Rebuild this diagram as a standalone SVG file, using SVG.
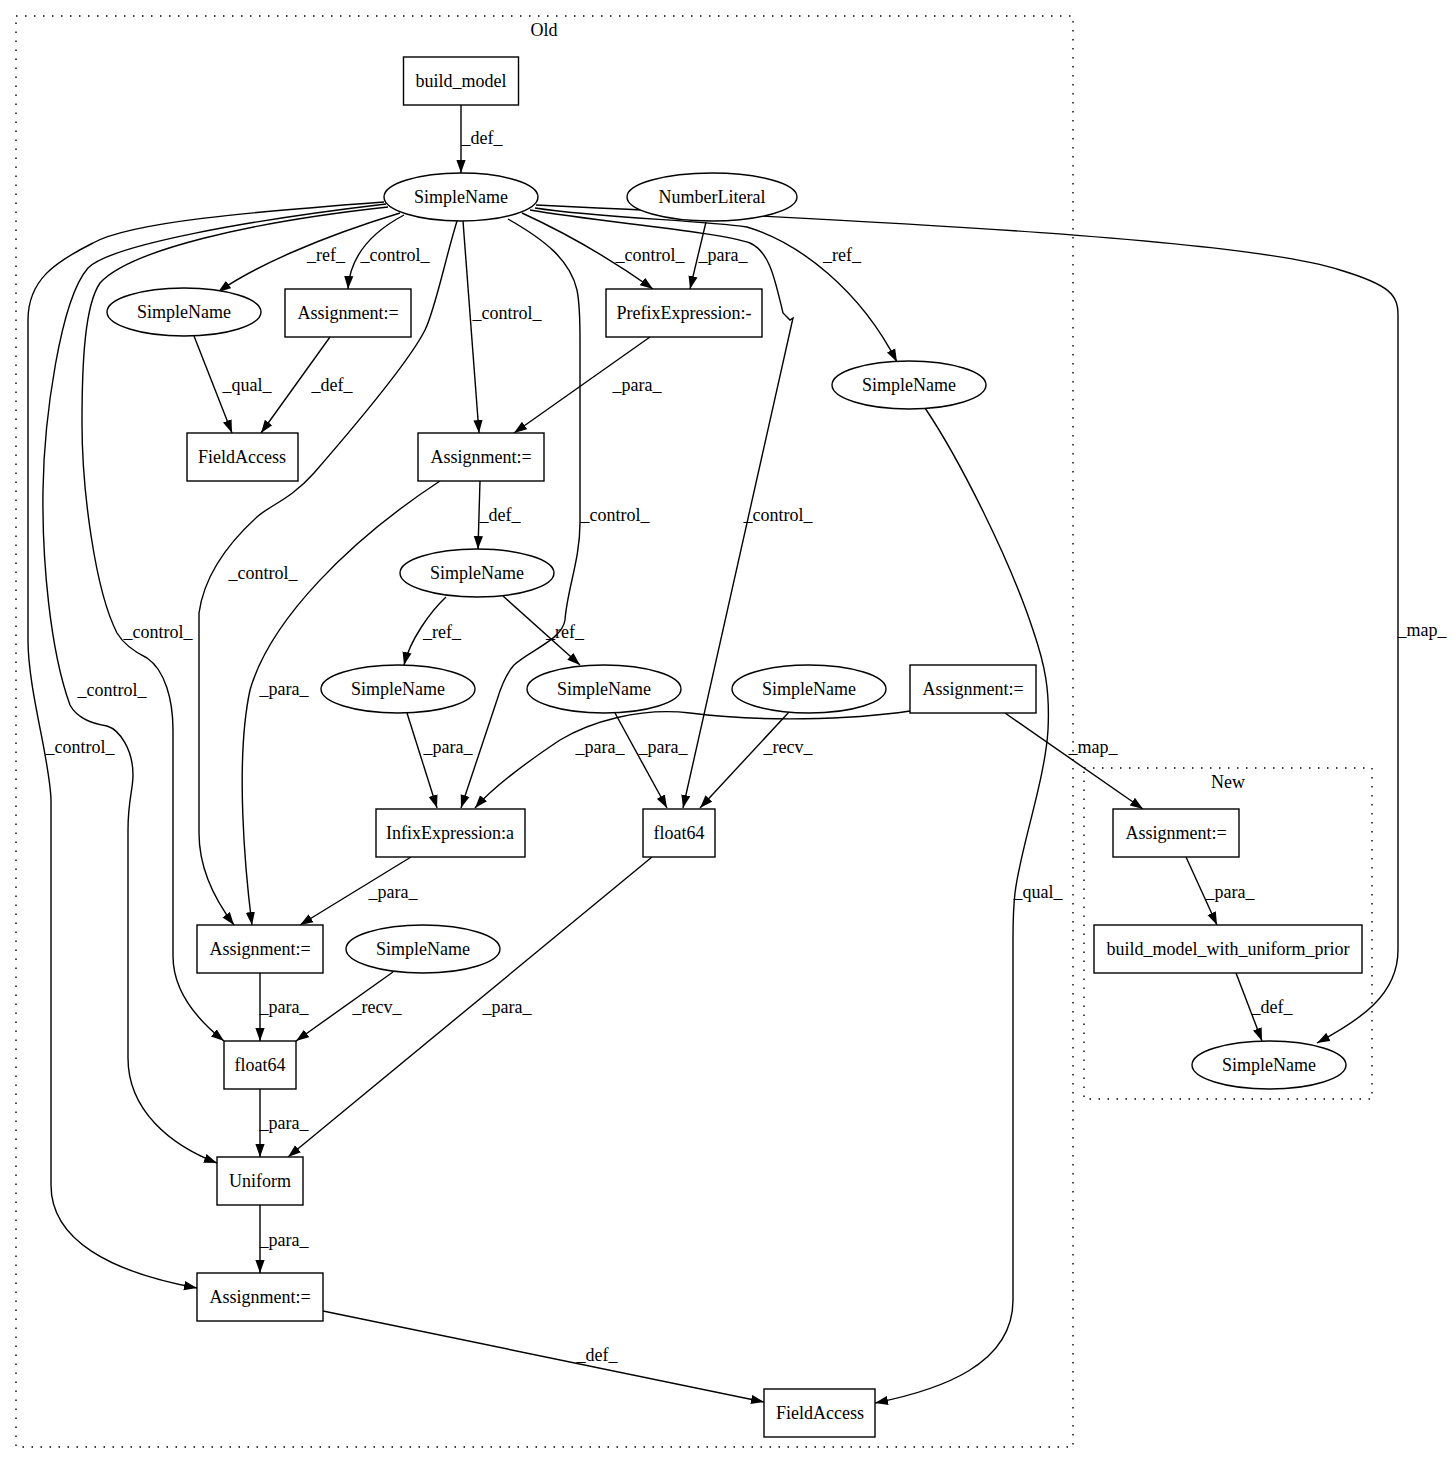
<svg xmlns="http://www.w3.org/2000/svg" width="1455" height="1464" viewBox="0 0 1455 1464">
<style>
text{font-family:"Liberation Serif","Times New Roman",serif;font-size:18px;fill:#000;text-anchor:middle}
.n rect,.n ellipse{fill:#fff;stroke:#000;stroke-width:1.4}
.e path{fill:none;stroke:#000;stroke-width:1.4;marker-end:url(#arr)}
.cl{fill:none;stroke:#000;stroke-width:1.4;stroke-dasharray:1.5,7.5}
</style>
<defs>
<marker id="arr" viewBox="0 0 13 10" refX="13" refY="5" markerWidth="13" markerHeight="10" markerUnits="userSpaceOnUse" orient="auto"><path d="M0,0.4 L13,5 L0,9.6 z" fill="#000"/></marker>
</defs>
<rect width="1455" height="1464" fill="#fff"/>
<g id="cluster_old"><rect class="cl" x="16" y="16" width="1057" height="1431"/><text x="544" y="36">Old</text></g>
<g id="cluster_new"><rect class="cl" x="1084" y="768" width="288" height="331"/><text x="1228" y="788">New</text></g>
<g id="edges" class="e">
<path d="M461,105 L461,173"/>
<path d="M400,213 C321,237 255,266 218,292"/>
<path d="M404,215 C372,232 350,255 348,289"/>
<path d="M463,221 L479,433"/>
<path d="M522,213 C570,235 615,262 653,289"/>
<path d="M706,222 L690,289"/>
<path d="M535,208 C600,218 700,220 747,227 C800,243 860,290 897,362"/>
<path d="M530,210 C600,222 720,232 750,243 C770,252 775,280 783,313 L790,320 L793,318 L683,808"/>
<path d="M536,205 C900,222 1250,240 1340,270 C1390,285 1398,295 1398,315 L1398,950 C1398,995 1360,1020 1317,1043"/>
<path d="M194,336 L232,433"/>
<path d="M330,337 L261,433"/>
<path d="M650,337 L514,433"/>
<path d="M480,481 L478,549"/>
<path d="M440,481 C350,540 270,620 250,690 C235,760 245,870 252,925"/>
<path d="M457,221 C445,260 435,310 425,330 C410,360 360,420 314,473 C290,500 270,505 257,517 C235,537 205,570 199,613 L199,833 C199,870 215,900 234,925"/>
<path d="M388,207 C250,222 130,250 100,283 C85,305 82,360 82,423 C82,490 95,590 117,633 C124,645 135,652 147,658 C165,670 173,700 173,730 L173,956 C173,990 195,1018 224,1041"/>
<path d="M386,204 C250,220 110,245 88,268 C60,300 44,420 43,490 C42,560 50,650 70,705 C78,720 95,724 107,726 C120,730 133,750 133,775 C133,790 128,800 128,830 L128,1058 C128,1110 170,1145 217,1163"/>
<path d="M384,202 C250,212 130,222 93,243 C55,262 28,280 28,320 L28,640 C28,690 50,760 51,800 L51,1185 C51,1240 110,1272 197,1288"/>
<path d="M508,219 C545,240 570,260 577,290 C580,305 580,320 580,340 L580,523 C580,560 567,590 565,620 C562,640 530,650 514,665 C505,675 500,690 497,700 L461,808"/>
<path d="M615,713 L667,808"/>
<path d="M789,712 L700,808"/>
<path d="M446,597 C430,612 410,640 404,665"/>
<path d="M503,596 L580,665"/>
<path d="M407,713 L437,808"/>
<path d="M910,711 C850,720 760,722 690,713 C640,707 590,722 560,740 C530,760 495,785 475,808"/>
<path d="M1005,713 L1143,809"/>
<path d="M411,857 L300,925"/>
<path d="M652,857 L288,1157"/>
<path d="M260,973 L260,1041"/>
<path d="M393,972 L296,1041"/>
<path d="M260,1089 L260,1157"/>
<path d="M260,1205 L260,1273"/>
<path d="M323,1311 L764,1402"/>
<path d="M925,408 C960,460 1010,560 1033,630 C1045,665 1050,690 1048,730 C1045,780 1020,850 1015,893 C1013,910 1013,925 1013,940 L1013,1300 C1013,1365 940,1390 875,1403"/>
<path d="M1186,857 L1217,925"/>
<path d="M1236,973 L1262,1041"/>
</g>
<g id="edge_labels">
<text x="482" y="144">_def_</text>
<text x="326" y="261">_ref_</text>
<text x="395" y="261">_control_</text>
<text x="507" y="319">_control_</text>
<text x="650" y="261">_control_</text>
<text x="723" y="261">_para_</text>
<text x="842" y="261">_ref_</text>
<text x="1422" y="636">_map_</text>
<text x="247" y="391">_qual_</text>
<text x="332" y="391">_def_</text>
<text x="637" y="391">_para_</text>
<text x="500" y="521">_def_</text>
<text x="615" y="521">_control_</text>
<text x="778" y="521">_control_</text>
<text x="263" y="579">_control_</text>
<text x="158" y="638">_control_</text>
<text x="112" y="696">_control_</text>
<text x="80" y="753">_control_</text>
<text x="442" y="638">_ref_</text>
<text x="565" y="638">_ref_</text>
<text x="284" y="695">_para_</text>
<text x="448" y="753">_para_</text>
<text x="600" y="753">_para_</text>
<text x="663" y="753">_para_</text>
<text x="788" y="753">_recv_</text>
<text x="1093" y="753">_map_</text>
<text x="393" y="898">_para_</text>
<text x="1038" y="898">_qual_</text>
<text x="1230" y="898">_para_</text>
<text x="284" y="1013">_para_</text>
<text x="377" y="1013">_recv_</text>
<text x="507" y="1013">_para_</text>
<text x="1272" y="1013">_def_</text>
<text x="284" y="1129">_para_</text>
<text x="284" y="1246">_para_</text>
<text x="597" y="1361">_def_</text>
</g>
<g id="n_build_model" class="n"><rect x="403.5" y="57" width="115" height="48"/><text x="461" y="87">build_model</text></g>
<g id="n_sn_top" class="n"><ellipse cx="461" cy="197" rx="77" ry="24"/><text x="461" y="203">SimpleName</text></g>
<g id="n_sn_l1" class="n"><ellipse cx="184" cy="312" rx="77" ry="24"/><text x="184" y="318">SimpleName</text></g>
<g id="n_assign_top" class="n"><rect x="285" y="289" width="126" height="48"/><text x="348" y="319">Assignment:=</text></g>
<g id="n_numlit" class="n"><ellipse cx="712" cy="197" rx="85" ry="24"/><text x="712" y="203">NumberLiteral</text></g>
<g id="n_prefix" class="n"><rect x="606" y="289" width="156" height="48"/><text x="684" y="319">PrefixExpression:-</text></g>
<g id="n_sn_r" class="n"><ellipse cx="909" cy="385" rx="77" ry="24"/><text x="909" y="391">SimpleName</text></g>
<g id="n_fa_up" class="n"><rect x="187" y="433" width="111" height="48"/><text x="242" y="463">FieldAccess</text></g>
<g id="n_assign_mid" class="n"><rect x="418" y="433" width="126" height="48"/><text x="481" y="463">Assignment:=</text></g>
<g id="n_sn_mid" class="n"><ellipse cx="477" cy="573" rx="77" ry="24"/><text x="477" y="579">SimpleName</text></g>
<g id="n_sn_l2" class="n"><ellipse cx="398" cy="689" rx="77" ry="24"/><text x="398" y="695">SimpleName</text></g>
<g id="n_sn_m2" class="n"><ellipse cx="604" cy="689" rx="77" ry="24"/><text x="604" y="695">SimpleName</text></g>
<g id="n_sn_m3" class="n"><ellipse cx="809" cy="689" rx="77" ry="24"/><text x="809" y="695">SimpleName</text></g>
<g id="n_assign_r" class="n"><rect x="910" y="665" width="126" height="48"/><text x="973" y="695">Assignment:=</text></g>
<g id="n_infix" class="n"><rect x="376" y="809" width="149" height="48"/><text x="450" y="839">InfixExpression:a</text></g>
<g id="n_f64_r" class="n"><rect x="643" y="809" width="72" height="48"/><text x="679" y="839">float64</text></g>
<g id="n_assign_low" class="n"><rect x="197" y="925" width="126" height="48"/><text x="260" y="955">Assignment:=</text></g>
<g id="n_sn_low" class="n"><ellipse cx="423" cy="949" rx="77" ry="24"/><text x="423" y="955">SimpleName</text></g>
<g id="n_f64_l" class="n"><rect x="224" y="1041" width="72" height="48"/><text x="260" y="1071">float64</text></g>
<g id="n_uniform" class="n"><rect x="217" y="1157" width="86" height="48"/><text x="260" y="1187">Uniform</text></g>
<g id="n_assign_bot" class="n"><rect x="197" y="1273" width="126" height="48"/><text x="260" y="1303">Assignment:=</text></g>
<g id="n_fa_bot" class="n"><rect x="764" y="1389" width="111" height="48"/><text x="820" y="1419">FieldAccess</text></g>
<g id="n_assign_new" class="n"><rect x="1113" y="809" width="126" height="48"/><text x="1176" y="839">Assignment:=</text></g>
<g id="n_bm_uni" class="n"><rect x="1094" y="925" width="268" height="48"/><text x="1228" y="955">build_model_with_uniform_prior</text></g>
<g id="n_sn_new" class="n"><ellipse cx="1269" cy="1065" rx="77" ry="24"/><text x="1269" y="1071">SimpleName</text></g>
</svg>
